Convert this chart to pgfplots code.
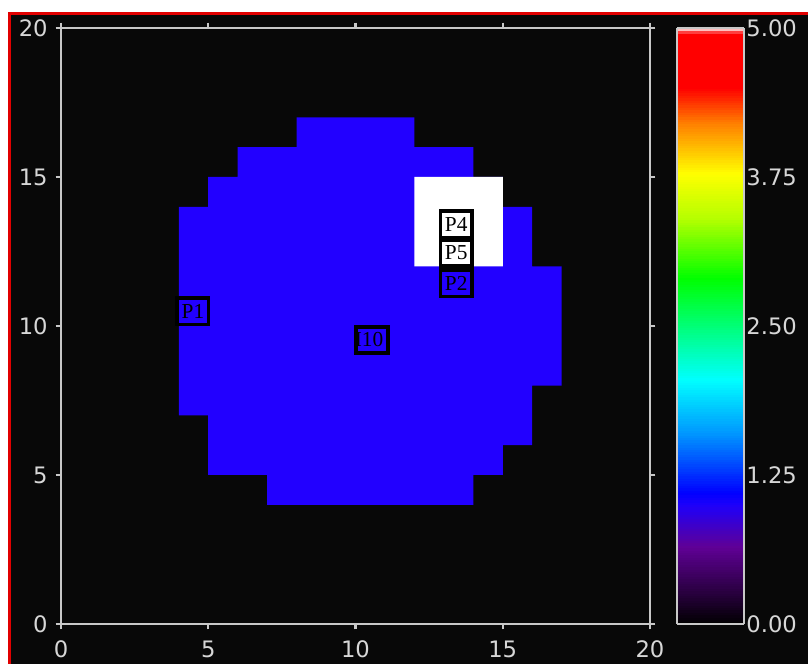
\documentclass[border=0pt]{standalone}
\usepackage{pgfplots}
\pgfplotsset{compat=1.18}
\usepackage{fontspec}
\newfontfamily\labfont{DejaVu Sans}
\newfontfamily\boxfont{Liberation Serif}
\definecolor{axgray}{RGB}{200,200,200}
\definecolor{labgray}{RGB}{215,215,215}
\definecolor{cellblue}{RGB}{34,0,255}
\definecolor{framered}{RGB}{225,0,0}
\definecolor{bg}{RGB}{8,8,8}
\pgfplotsset{
  colormap={rbw}{rgb255(0cm)=(0,0,0) rgb255(0.3cm)=(45,0,70) rgb255(0.65cm)=(95,0,150) rgb255(1cm)=(30,0,250) rgb255(1.1cm)=(0,0,255) rgb255(1.6cm)=(0,150,255) rgb255(2.05cm)=(0,255,255) rgb255(2.4cm)=(0,255,150) rgb255(2.9cm)=(0,255,0) rgb255(3.4cm)=(180,255,0) rgb255(3.78cm)=(255,255,0) rgb255(4.2cm)=(255,128,0) rgb255(4.5cm)=(255,0,0) rgb255(4.96cm)=(255,0,0) rgb255(5cm)=(255,255,255)}
}
\tikzset{lbl/.style={draw=black, line width=2.8pt, inner sep=0pt, minimum width=23.5pt, minimum height=20pt, text=black, font=\boxfont\fontsize{16}{16}\selectfont}}
\begin{document}
\begin{tikzpicture}
\useasboundingbox (-45.75pt,-30pt) rectangle (560.25pt,468pt);
\clip (-45.75pt,-30pt) rectangle (560.25pt,468pt);
\fill[white] (-45.75pt,-30pt) rectangle (560.25pt,468pt);
\filldraw[fill=bg, draw=framered, line width=2.25pt] (-38.625pt,-60pt) rectangle (600pt,457.5pt);
\begin{axis}[
  at={(0,0)}, anchor=south west,
  scale only axis, width=441.75pt, height=447pt,
  xmin=0, xmax=20, ymin=0, ymax=20,
  xtick={0,5,10,15,20}, ytick={0,5,10,15,20},
  tick align=outside, major tick length=4pt,
  axis line style={draw=axgray, line width=1.6pt},
  every tick/.style={draw=axgray, line width=1.6pt},
  /pgf/number format/assume math mode=true,
  tick label style={font=\labfont\fontsize{17}{20}\selectfont, text=labgray},
  yticklabel style={xshift=-2.5pt},
  xticklabel style={yshift=-5pt},
  axis on top,
  colormap name=rbw,
  point meta min=0, point meta max=5,
  colorbar sampled,
  colorbar style={
    at={(parent axis.north east)}, anchor=north west, xshift=12pt,
    width=50.25pt,
    samples=250,
    ytick={0,1.25,2.5,3.75,5},
    major tick length=0pt,
    ytick style={draw=none},
    axis line style={draw=axgray, line width=1.5pt},
    /pgf/number format/assume math mode=true,
    yticklabel style={font=\labfont\fontsize{17}{20}\selectfont, text=labgray, xshift=-2pt,
      /pgf/number format/.cd, fixed, fixed zerofill, precision=2},
  },
]
% blue cells (value about 1.0)
\addplot[fill=cellblue, draw=none] coordinates {
  (8,17) (12,17) (12,16) (14,16) (14,15) (15,15) (15,14) (16,14) (16,12) (17,12)
  (17,8) (16,8) (16,6) (15,6) (15,5) (14,5) (14,4) (7,4) (7,5) (5,5) (5,7) (4,7)
  (4,14) (5,14) (5,15) (6,15) (6,16) (8,16) (8,17)};
% white cells (value 5)
\addplot[fill=white, draw=none] coordinates {(12,12) (15,12) (15,15) (12,15) (12,12)};
\node[lbl] at (axis cs:13.42,13.42) {P4};
\node[lbl] at (axis cs:13.42,12.45) {P5};
\node[lbl] at (axis cs:13.42,11.44) {P2};
\node[lbl] at (axis cs:4.48,10.5) {P1};
\node[lbl] at (axis cs:10.56,9.53) {\makebox[17pt][r]{I10}};
\end{axis}
\end{tikzpicture}
\end{document}
